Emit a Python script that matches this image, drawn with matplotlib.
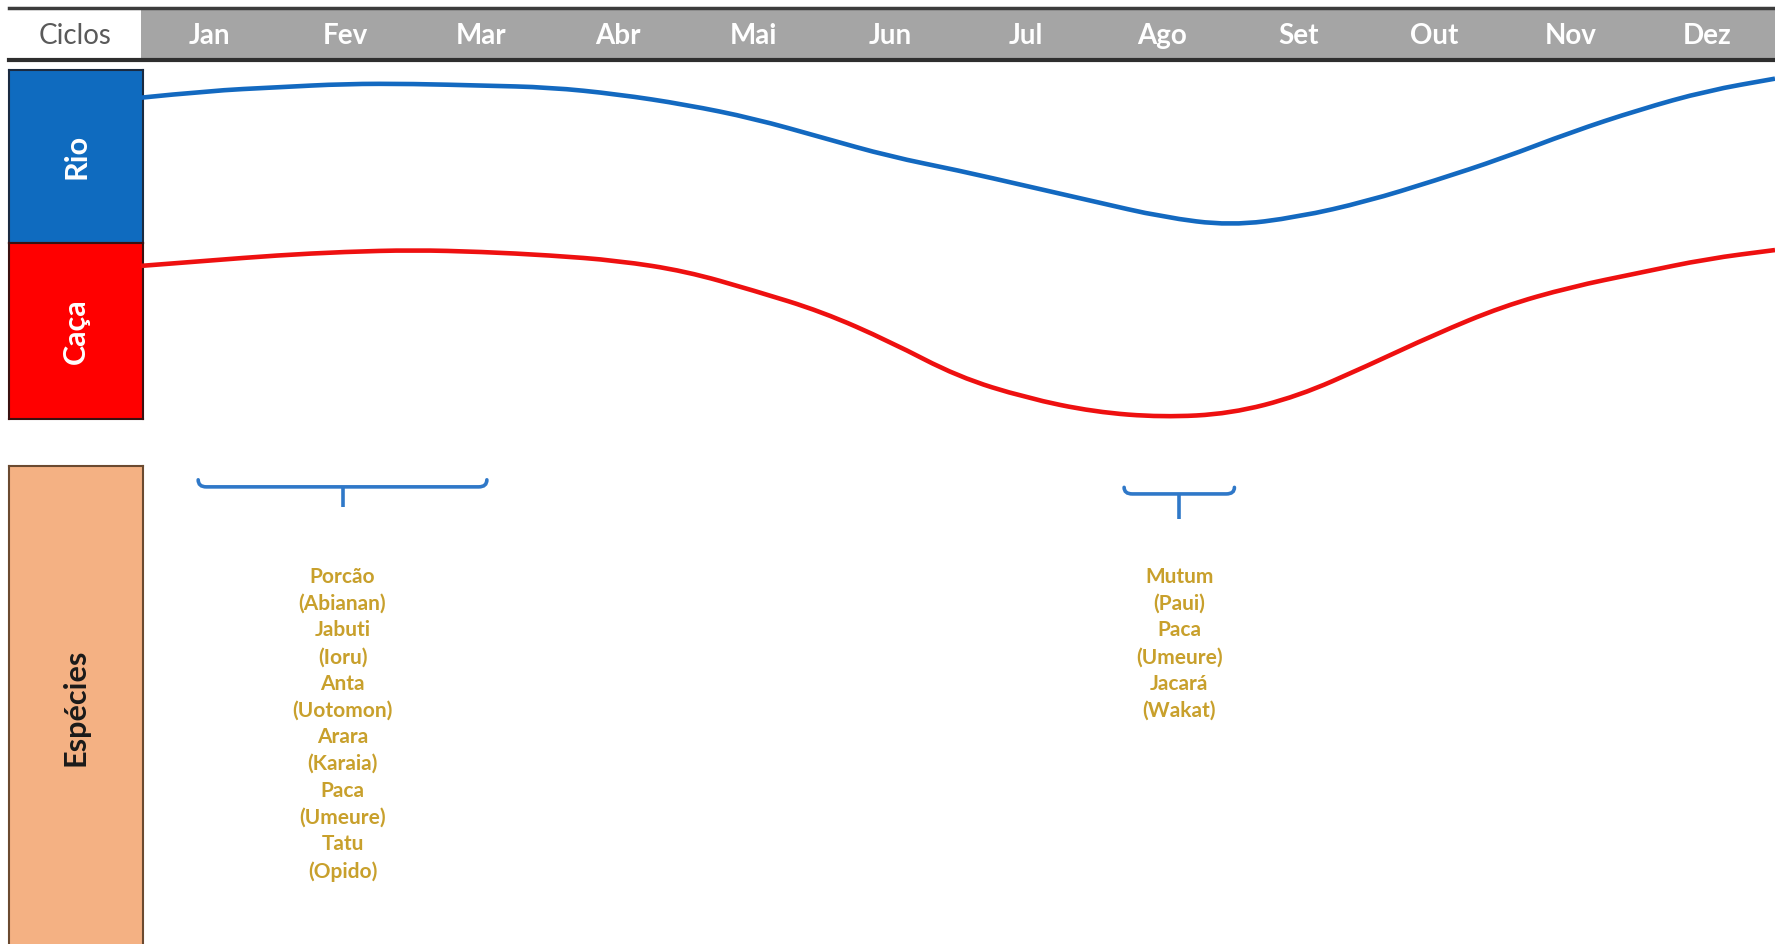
import matplotlib.pyplot as plt
from matplotlib.path import Path
from matplotlib.patches import PathPatch
from matplotlib.lines import Line2D

# dados
meses = ['Jan', 'Fev', 'Mar', 'Abr', 'Mai', 'Jun', 'Jul', 'Ago', 'Set', 'Out', 'Nov', 'Dez']

# posicao ao longo do ano (em meses, 0 = inicio de Jan, 12 = fim de Dez)
pos_ano = [0, 0.5, 1, 1.5, 2, 2.5, 3, 3.5, 4, 4.5, 5, 5.5, 6,
           6.5, 7, 7.5, 8, 8.5, 9, 9.5, 10, 10.5, 11, 11.5, 12]

# nivel relativo (0-100) dentro de cada faixa
nivel_rio = [84, 88, 90, 92, 92, 91, 90, 86, 80, 72, 61, 50, 42,
             33, 24, 15, 10, 15, 24, 36, 49, 64, 77, 88, 95]
nivel_caca = [87, 90, 93, 95, 96, 95, 93, 90, 84, 73, 61, 44, 24,
              12, 4, 1, 3, 13, 30, 48, 64, 75, 83, 91, 96]

# periodos das especies (inicio, fim em meses)
periodos = [(0.42, 2.54), (7.22, 8.03)]
especies = [
    ['Porcão', '(Abianan)', 'Jabuti', '(Ioru)', 'Anta', '(Uotomon)',
     'Arara', '(Karaia)', 'Paca', '(Umeure)', 'Tatu', '(Opido)'],
    ['Mutum', '(Paui)', 'Paca', '(Umeure)', 'Jacará', '(Wakat)'],
]

W, H = 1775, 944
plt.rcParams['font.family'] = ['Lato', 'DejaVu Sans']

fig = plt.figure(figsize=(W / 100, H / 100), dpi=100)
fig.patch.set_facecolor('white')


def ret(x0, y0, x1, y1):
    # retangulo em pixels (y de cima para baixo) -> fracao da figura
    return [x0 / W, 1 - y1 / H, (x1 - x0) / W, (y1 - y0) / H]


def caixa(y0, y1, cor, texto, cor_texto, borda):
    ax = fig.add_axes(ret(9, y0, 143, y1))
    ax.set_facecolor(cor)
    ax.set_xticks([])
    ax.set_yticks([])
    for s in ax.spines.values():
        s.set_color(borda)
        s.set_linewidth(1.5)
    ax.text(0.5, 0.5, texto, rotation=90, ha='center', va='center',
            color=cor_texto, fontsize=22, fontweight='bold',
            transform=ax.transAxes)
    return ax


def curva_suave(ax, xs, ys, cor):
    # linha suavizada (tipo "linha suave" do Excel) pelos pontos lidos
    pts = list(zip(xs, ys))
    verts = [pts[0]]
    codes = [Path.MOVETO]
    for i in range(1, len(pts) - 1):
        meio = ((pts[i][0] + pts[i + 1][0]) / 2, (pts[i][1] + pts[i + 1][1]) / 2)
        verts += [pts[i], meio]
        codes += [Path.CURVE3, Path.CURVE3]
    verts.append(pts[-1])
    codes.append(Path.LINETO)
    ax.add_patch(PathPatch(Path(verts, codes), fill=False, edgecolor=cor,
                           lw=3.3, clip_on=False, capstyle='butt'))


# cabecalho
ax_cab = fig.add_axes(ret(141, 9, W, 60))
ax_cab.set_facecolor('#a5a5a5')
ax_cab.set_xlim(0, 12)
ax_cab.set_ylim(0, 1)
ax_cab.set_xticks([])
ax_cab.set_yticks([])
for s in ax_cab.spines.values():
    s.set_visible(False)
for i, m in enumerate(meses):
    ax_cab.text(i + 0.5, 0.47, m, ha='center', va='center', color='white',
                fontsize=20, fontweight='bold')

ax_cic = fig.add_axes(ret(9, 9, 141, 60))
ax_cic.set_facecolor('white')
ax_cic.set_xticks([])
ax_cic.set_yticks([])
for s in ax_cic.spines.values():
    s.set_visible(False)
ax_cic.text(0.5, 0.47, 'Ciclos', ha='center', va='center', color='#5a5a5a',
            fontsize=20, transform=ax_cic.transAxes)

fig.add_artist(Line2D([9 / W, 1], [1 - 8 / H, 1 - 8 / H], color='#3c3c3c', lw=2.5))
fig.add_artist(Line2D([9 / W, 1], [1 - 60 / H, 1 - 60 / H], color='#2e2e2e', lw=3))

# caixas da esquerda
caixa(70, 243, '#0f6bbf', 'Rio', 'white', '#1a2a40')
caixa(243, 419, '#ff0000', 'Caça', 'white', '#3a1010')
caixa(466, H + 5, '#f4b183', 'Espécies', '#1a1a1a', '#6b4a30')

# curvas
ax_rio = fig.add_axes(ret(141, 70, W, 243))
ax_rio.set_xlim(0, 12)
ax_rio.set_ylim(0, 100)
ax_rio.axis('off')
curva_suave(ax_rio, pos_ano, nivel_rio, '#1369c0')

ax_caca = fig.add_axes(ret(141, 243, W, 419))
ax_caca.set_xlim(0, 12)
ax_caca.set_ylim(0, 100)
ax_caca.axis('off')
curva_suave(ax_caca, pos_ano, nivel_caca, '#ee1010')

# especies e chaves
ax_esp = fig.add_axes(ret(141, 440, W, H))
ax_esp.set_xlim(0, 12)
ax_esp.set_ylim(0, 1)
ax_esp.axis('off')

chaves_y = [(0.907, 0.921, 0.867), (0.893, 0.906, 0.843)]
for (ini, fim), (yl, yg, yh), lista in zip(periodos, chaves_y, especies):
    dx = 0.06
    verts = [(ini, yg), (ini, yl), (ini + dx, yl), (fim - dx, yl),
             (fim, yl), (fim, yg)]
    codes = [Path.MOVETO, Path.CURVE3, Path.CURVE3, Path.LINETO,
             Path.CURVE3, Path.CURVE3]
    ax_esp.add_patch(PathPatch(Path(verts, codes), fill=False,
                               edgecolor='#2f78c8', lw=2.6, capstyle='round'))
    meio = (ini + fim) / 2
    ax_esp.plot([meio, meio], [yl, yh], color='#2f78c8', lw=2.6,
                solid_capstyle='butt')
    ax_esp.text(meio, 0.748, '\n'.join(lista), ha='center', va='top',
                color='#c8a02c', fontsize=15, fontweight='bold',
                linespacing=1.42)

fig.savefig('out.png', dpi=100, facecolor='white')
